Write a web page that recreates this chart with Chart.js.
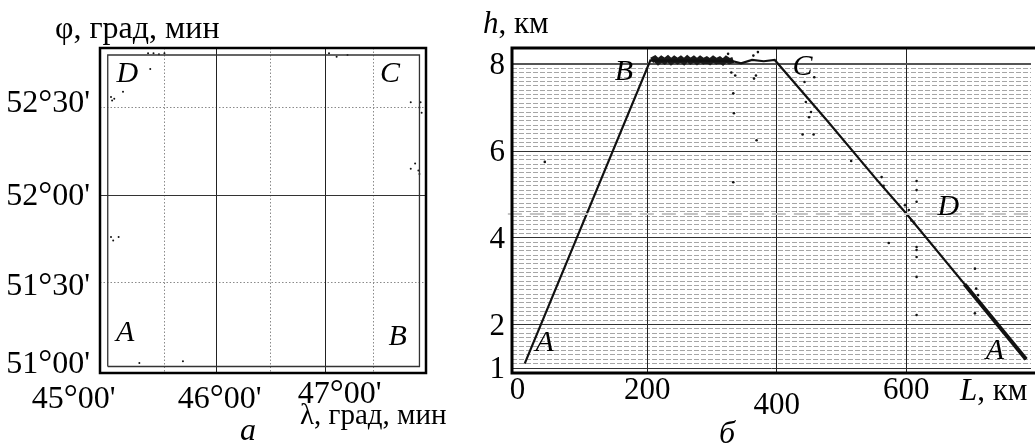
<!DOCTYPE html>
<html>
<head>
<meta charset="utf-8">
<script src="https://cdn.jsdelivr.net/npm/chart.js@4.4.1/dist/chart.umd.min.js"></script>
<style>
  html, body { margin: 0; padding: 0; background: #fff; }
  #wrap { position: relative; width: 1035px; height: 445px; overflow: hidden; }
  #mapChart { position: absolute; left: 0; top: 0; }
  #profileChart { position: absolute; left: 455px; top: 0; }
</style>
</head>
<body>
<div id="wrap">
  <canvas id="mapChart" width="455" height="445"></canvas>
  <canvas id="profileChart" width="580" height="445"></canvas>
</div>
<script>
// ---- panel a: flight square, longitude / latitude in degrees ----
const squareLon = [45.0, 47.86, 47.86, 45.0, 45.0];
const squareLat = [51.02, 51.02, 52.80, 52.80, 51.02];
const cornerNames = ['A', 'B', 'C', 'D'];
const cornerLon = [45.16, 47.66, 47.59, 45.18];
const cornerLat = [51.21, 51.19, 52.69, 52.69];
const strayLon = [45.39, 45.14, 45.03, 45.04, 45.06, 45.03, 45.05, 45.10, 45.29, 45.69,
                  45.37, 45.42, 45.47, 45.52, 47.03, 47.10, 47.20,
                  47.78, 47.86, 47.88, 47.87, 47.82, 47.78, 47.85, 47.86];
const strayLat = [52.72, 52.59, 52.56, 52.54, 52.55, 51.76, 51.74, 51.76, 51.04, 51.05,
                  52.81, 52.81, 52.805, 52.81, 52.81, 52.79, 52.80,
                  52.53, 52.50, 52.47, 52.53, 52.18, 52.15, 52.14, 52.12];
const lonMajor = [46, 47];
const lonMinor = [45.52, 46.49, 47.44];
const latMajor = [52];
const latMinor = [51.5, 52.5];
const lonTicks = [45, 46, 47];
const lonTickLabels = ["45°00'", "46°00'", "47°00'"];
const latTicks = [51, 51.5, 52, 52.5];
const latTickLabels = ["51°00'", "51°30'", "52°00'", "52°30'"];

// ---- panel б: height h (km) along the route L (km) ----
const trackL = [11, 205, 330, 345, 362, 380, 397, 479, 555, 600, 719, 785];
const trackH = [1.1, 8.09, 8.08, 8.02, 8.1, 8.07, 8.1, 6.68, 5.33, 4.56, 2.41, 1.2];
const plateauL = [207, 212, 217, 222, 227, 232, 237, 242, 247, 252, 257, 262, 267, 272, 277,
                  282, 287, 292, 297, 302, 307, 312, 317, 322, 327, 333];
const plateauH = [8.09, 8.13, 8.06, 8.12, 8.07, 8.13, 8.06, 8.12, 8.07, 8.12, 8.06, 8.13, 8.07,
                  8.12, 8.06, 8.12, 8.07, 8.11, 8.06, 8.12, 8.07, 8.11, 8.05, 8.12, 8.07, 8.1];
const tailL = [690, 785];
const tailH = [2.93, 1.2];
const strayL = [42, 325, 364, 371, 330, 336, 365, 368, 333, 334, 369, 333, 443, 458, 445, 453, 450,
                440, 457, 515, 562, 565, 573, 598, 604, 608, 612, 616, 616, 616, 616, 616, 616, 616,
                616, 706, 706, 708, 711];
const strayH = [5.75, 8.24, 8.2, 8.28, 7.81, 7.74, 7.67, 7.74, 7.33, 6.87, 6.25, 5.28, 7.59, 7.70, 7.13,
                6.90, 6.78, 6.38, 6.38, 5.77, 5.4, 5.2, 3.88, 4.75, 4.64, 4.4, 4.35, 5.31, 5.10, 4.83,
                3.79, 3.72, 3.56, 3.10, 2.22, 3.29, 2.26, 2.83, 2.68];
const pointNames = ['A', 'B', 'C', 'D', 'A'];
const pointNameL = [42, 164, 440, 665, 737];
const pointNameH = [1.58, 7.81, 7.93, 4.71, 1.39];
const levelD = 4.55;
const distTicks = [0, 200, 400, 600];
const distTickLabels = ['0', '200', '400', '600'];
const heightTicks = [1, 2, 4, 6, 8];
const heightTickLabels = ['1', '2', '4', '6', '8'];
const heightMinorStep = 0.1;

const serif = '"Liberation Serif", "Times New Roman", serif';
const pts = (xs, ys) => xs.map((x, i) => ({ x: x, y: ys[i] }));
const setTicks = vals => axis => { axis.ticks = vals.map(v => ({ value: v })); };

function gridAxis(pos, min, max, vals, color, width, dash) {
    return {
        type: 'linear', position: pos, min: min, max: max, bounds: 'data',
        afterBuildTicks: setTicks(vals),
        ticks: { display: false },
        grid: { color: color, lineWidth: width, drawTicks: false },
        border: { display: false, dash: dash }
    };
}

function put(ctx, text, x, y, font, align, baseline) {
    ctx.font = font;
    ctx.textAlign = align || 'left';
    ctx.textBaseline = baseline || 'alphabetic';
    ctx.fillStyle = '#000';
    ctx.fillText(text, x, y);
}

// italic symbol followed by upright unit, e.g. "h, км"
function putSymbol(ctx, sym, rest, x, y, size) {
    put(ctx, sym, x, y, 'italic ' + size + 'px ' + serif);
    const w = ctx.measureText(sym).width;
    put(ctx, rest, x + w, y, size + 'px ' + serif);
}

// angle label with a slightly enlarged degree sign, centred vertically on cy
function putAngle(ctx, text, x, cy, size, align) {
    const [deg, min] = text.split('°');
    const f = size + 'px ' + serif;
    const fd = Math.round(size * 1.08) + 'px ' + serif;
    ctx.font = f;
    const w1 = ctx.measureText(deg).width, w3 = ctx.measureText(min).width;
    ctx.font = fd;
    const w2 = ctx.measureText('°').width;
    const total = w1 + w2 + w3;
    let x0 = align === 'right' ? x - total : align === 'center' ? x - total / 2 : x;
    const base = cy + size * 0.33;
    put(ctx, deg, x0, base, f);
    put(ctx, '°', x0 + w1, base + size * 0.05, fd);
    put(ctx, min, x0 + w1 + w2, base, f);
}

// offsets of the printed tick labels relative to their ticks
const latLabelShift = [-8, 2, -1, -6];
const lonLabelShift = [[-34, 24], [3, 24], [14, 19]];
const distLabelShift = [0, 0, 15, 0];

const mapDecor = {
    id: 'mapDecor',
    afterDraw(chart) {
        const { ctx, chartArea: a, scales: { x, y } } = chart;
        ctx.save();
        ctx.strokeStyle = '#000';
        ctx.lineWidth = 2.5;
        ctx.strokeRect(a.left, a.top, a.right - a.left, a.bottom - a.top);

        latTicks.forEach((v, i) => {
            putAngle(ctx, latTickLabels[i], 90, y.getPixelForValue(v) + latLabelShift[i], 32, 'right');
        });
        lonTicks.forEach((v, i) => {
            putAngle(ctx, lonTickLabels[i], x.getPixelForValue(v) + lonLabelShift[i][0],
                a.bottom + lonLabelShift[i][1], 32, 'center');
        });
        cornerNames.forEach((n, i) => {
            put(ctx, n, x.getPixelForValue(cornerLon[i]), y.getPixelForValue(cornerLat[i]),
                'italic 30px ' + serif, 'center', 'middle');
        });
        put(ctx, 'φ, град, мин', 55, 38, '32px ' + serif);
        put(ctx, 'λ, град, мин', 300, 424, '29px ' + serif);
        put(ctx, 'а', 248, 440, 'italic 32px ' + serif, 'center');
        ctx.restore();
    }
};

const profileDecor = {
    id: 'profileDecor',
    afterDraw(chart) {
        const { ctx, chartArea: a, scales: { x, y } } = chart;
        ctx.save();
        ctx.strokeStyle = '#000';
        ctx.lineWidth = 3;
        ctx.beginPath();
        ctx.moveTo(chart.width, a.top);
        ctx.lineTo(a.left, a.top);
        ctx.lineTo(a.left, a.bottom);
        ctx.lineTo(chart.width, a.bottom);
        ctx.stroke();

        const tf = '31px ' + serif;
        heightTicks.forEach((v, i) => {
            put(ctx, heightTickLabels[i], 50, y.getPixelForValue(v) + 2, tf, 'right', 'middle');
        });
        distTicks.forEach((v, i) => {
            put(ctx, distTickLabels[i], x.getPixelForValue(v), a.bottom + 18 + distLabelShift[i], tf, 'center', 'middle');
        });
        pointNames.forEach((n, i) => {
            put(ctx, n, x.getPixelForValue(pointNameL[i]), y.getPixelForValue(pointNameH[i]),
                'italic 30px ' + serif, 'center', 'middle');
        });
        putSymbol(ctx, 'h', ', км', 28, 33, 31);
        putSymbol(ctx, 'L', ', км', 505, 400, 31);
        put(ctx, 'б', 272, 443, 'italic 32px ' + serif, 'center');
        ctx.restore();
    }
};

const baseOptions = {
    responsive: false,
    animation: false,
    plugins: { legend: { display: false }, tooltip: { enabled: false } }
};

new Chart(document.getElementById('mapChart'), {
    type: 'scatter',
    data: {
        datasets: [
            {
                data: pts(squareLon, squareLat), showLine: true,
                borderColor: '#333', borderWidth: 1.3, pointRadius: 0
            },
            {
                data: pts(strayLon, strayLat), showLine: false,
                pointRadius: 1, backgroundColor: '#111', borderWidth: 0
            }
        ]
    },
    options: Object.assign({}, baseOptions, {
        layout: { padding: { left: 100, right: 29, top: 48, bottom: 72 } },
        scales: {
            xm: gridAxis('bottom', 44.929, 47.92, lonMinor, '#8a8a8a', 1, [1.5, 2]),
            ym: gridAxis('left', 50.983, 52.84, latMinor, '#8a8a8a', 1, [1.5, 2]),
            x: gridAxis('bottom', 44.929, 47.92, lonMajor, '#222', 1, []),
            y: gridAxis('left', 50.983, 52.84, latMajor, '#333', 1, [])
        }
    }),
    plugins: [mapDecor]
});

const minorH = [];
for (let k = Math.round(heightTicks[0] / heightMinorStep); k <= Math.round(8 / heightMinorStep); k++) {
    const h = +(k * heightMinorStep).toFixed(2);
    if (!heightTicks.includes(h)) minorH.push(h);
}

new Chart(document.getElementById('profileChart'), {
    type: 'scatter',
    data: {
        datasets: [
            {
                data: pts([-15, 800], [levelD, levelD]), showLine: true, clip: false,
                borderColor: '#c4c4c4', borderWidth: 2, borderDash: [14, 8], pointRadius: 0
            },
            {
                data: pts(trackL, trackH), showLine: true,
                borderColor: '#111', borderWidth: 2.2, pointRadius: 0
            },
            {
                data: pts(plateauL, plateauH), showLine: true,
                borderColor: '#1a1a1a', borderWidth: 6, pointRadius: 0
            },
            {
                data: pts(tailL, tailH), showLine: true,
                borderColor: '#111', borderWidth: 4, pointRadius: 0
            },
            {
                data: pts(strayL, strayH), showLine: false,
                pointRadius: 1.3, backgroundColor: '#111', borderWidth: 0
            }
        ]
    },
    options: Object.assign({}, baseOptions, {
        layout: { padding: { left: 57, right: 0, top: 48, bottom: 72 } },
        scales: {
            ym: gridAxis('left', 0.885, 8.375, minorH, '#a6a6a6', 1, [5, 2]),
            x: gridAxis('bottom', -8.6, 792.6, distTicks.slice(1), '#222', 1, []),
            y: Object.assign(gridAxis('left', 0.885, 8.375, heightTicks, '#333', 1, []), {
                grid: { color: c => (c.tick && c.tick.value === 8 ? '#555' : '#333'),
                        lineWidth: c => (c.tick && c.tick.value === 8 ? 2 : 1), drawTicks: false }
            })
        }
    }),
    plugins: [profileDecor]
});
</script>
</body>
</html>
